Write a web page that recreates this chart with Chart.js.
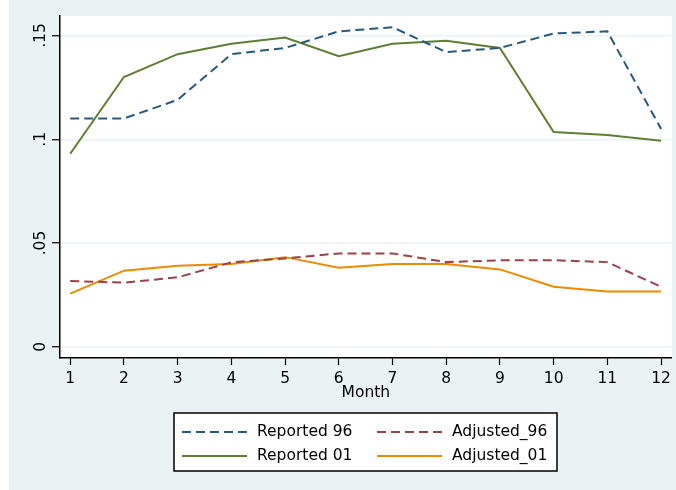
<!DOCTYPE html>
<html>
<head>
<meta charset="utf-8">
<script src="https://cdn.jsdelivr.net/npm/chart.js@4/dist/chart.umd.min.js"></script>
<style>
  html, body { margin: 0; padding: 0; background: #fff; }
  #wrap { width: 676px; height: 490px; }
</style>
</head>
<body>
<div id="wrap"><canvas id="monthChart" width="676" height="490"></canvas></div>
<script>
const months = [1, 2, 3, 4, 5, 6, 7, 8, 9, 10, 11, 12];
const reported96 = [0.110, 0.110, 0.119, 0.141, 0.144, 0.152, 0.154, 0.142, 0.144, 0.151, 0.152, 0.105];
const adjusted96 = [0.0317, 0.0309, 0.0335, 0.0407, 0.0426, 0.045, 0.045, 0.0408, 0.0417, 0.0417, 0.0408, 0.0289];
const reported01 = [0.093, 0.130, 0.141, 0.146, 0.149, 0.140, 0.146, 0.1475, 0.144, 0.1035, 0.102, 0.0993];
const adjusted01 = [0.0256, 0.0367, 0.039, 0.0399, 0.0432, 0.0381, 0.0399, 0.0399, 0.0373, 0.0289, 0.0267, 0.0267];
const yTicks = [0, 0.05, 0.1, 0.15];
const yTickLabels = ["0", ".05", ".1", ".15"];

const FONT = "'DejaVu Sans', sans-serif";
const bgLight = "#eaf2f3";

function points(values) {
    return months.map((m, i) => ({ x: m, y: values[i] }));
}

// background: graph region + white plot region
const backgroundPlugin = {
    id: "stataBackground",
    beforeDraw(chart) {
        const ctx = chart.ctx;
        const area = chart.chartArea;
        ctx.save();
        ctx.fillStyle = "#fff";
        ctx.fillRect(0, 0, chart.width, chart.height);
        ctx.fillStyle = bgLight;
        ctx.fillRect(9, 0, chart.width - 9, chart.height);
        ctx.fillStyle = "#fff";
        ctx.fillRect(area.left, area.top, area.right - area.left, area.bottom - area.top);
        ctx.restore();
    },
};

// rotated y tick labels and the boxed two-column legend
const labelsPlugin = {
    id: "stataLabels",
    afterDraw(chart) {
        const ctx = chart.ctx;
        const yScale = chart.scales.y;
        ctx.save();
        ctx.fillStyle = "#000";
        ctx.font = "15.5px " + FONT;
        ctx.textAlign = "center";
        ctx.textBaseline = "alphabetic";
        yTicks.forEach((v, i) => {
            const y = yScale.getPixelForValue(v);
            ctx.save();
            ctx.translate(45, y);
            ctx.rotate(-Math.PI / 2);
            ctx.fillText(yTickLabels[i], 0, 0);
            ctx.restore();
        });

        // legend box
        ctx.fillStyle = "#fff";
        ctx.fillRect(174, 413, 383, 58);
        ctx.strokeStyle = "#000";
        ctx.lineWidth = 1.5;
        ctx.strokeRect(174, 413, 383, 58);

        const cols = [182, 377];
        const rows = [432, 456];
        chart.data.datasets.forEach((ds, i) => {
            const x = cols[i % 2];
            const y = rows[Math.floor(i / 2)];
            ctx.beginPath();
            ctx.strokeStyle = ds.borderColor;
            ctx.lineWidth = ds.borderWidth;
            ctx.setLineDash(ds.borderDash || []);
            ctx.moveTo(x, y);
            ctx.lineTo(x + 65, y);
            ctx.stroke();
            ctx.setLineDash([]);
            ctx.fillStyle = "#000";
            ctx.textAlign = "left";
            ctx.textBaseline = "middle";
            ctx.font = "15.5px " + FONT;
            ctx.fillText(ds.label, x + 75, y);
        });
        ctx.restore();
    },
};

const ctx = document.getElementById("monthChart").getContext("2d");

new Chart(ctx, {
    type: "line",
    data: {
        datasets: [
            {
                label: "Reported 96",
                data: points(reported96),
                borderColor: "#26597f",
                borderWidth: 2,
                borderDash: [9, 5],
            },
            {
                label: "Adjusted_96",
                data: points(adjusted96),
                borderColor: "#9c4148",
                borderWidth: 2,
                borderDash: [9, 5],
            },
            {
                label: "Reported 01",
                data: points(reported01),
                borderColor: "#5e7f33",
                borderWidth: 2,
            },
            {
                label: "Adjusted_01",
                data: points(adjusted01),
                borderColor: "#ec8a00",
                borderWidth: 2,
            },
        ],
    },
    options: {
        responsive: false,
        animation: false,
        devicePixelRatio: 1,
        layout: {
            padding: { top: 16, right: 4, left: 0, bottom: 0 },
        },
        elements: {
            point: { radius: 0 },
            line: { tension: 0, fill: false },
        },
        plugins: {
            legend: { display: false },
            tooltip: { enabled: false },
        },
        scales: {
            x: {
                type: "linear",
                min: 0.81,
                max: 12.2,
                afterBuildTicks: (scale) => {
                    scale.ticks = months.map((m) => ({ value: m }));
                },
                afterFit: (scale) => {
                    scale.height = 132;
                },
                grid: {
                    drawOnChartArea: false,
                    tickLength: 7,
                    tickColor: "#000",
                    tickWidth: 1.2,
                },
                border: { color: "#000", width: 1.5 },
                ticks: {
                    color: "#000",
                    padding: 5,
                    maxRotation: 0,
                    autoSkip: false,
                    font: { family: FONT, size: 15.5 },
                },
                title: {
                    display: true,
                    text: "Month",
                    color: "#000",
                    font: { family: FONT, size: 15.5 },
                    padding: { top: 0, bottom: 88 },
                },
            },
            y: {
                min: -0.0054,
                max: 0.1594,
                afterBuildTicks: (scale) => {
                    scale.ticks = yTicks.map((v) => ({ value: v }));
                },
                afterFit: (scale) => {
                    scale.width = 60;
                },
                grid: {
                    color: bgLight,
                    lineWidth: 1.5,
                    tickLength: 8,
                    tickColor: "#000",
                    tickWidth: 1.2,
                },
                border: { color: "#000", width: 1.5 },
                ticks: { display: false },
            },
        },
    },
    plugins: [backgroundPlugin, labelsPlugin],
});
</script>
</body>
</html>
